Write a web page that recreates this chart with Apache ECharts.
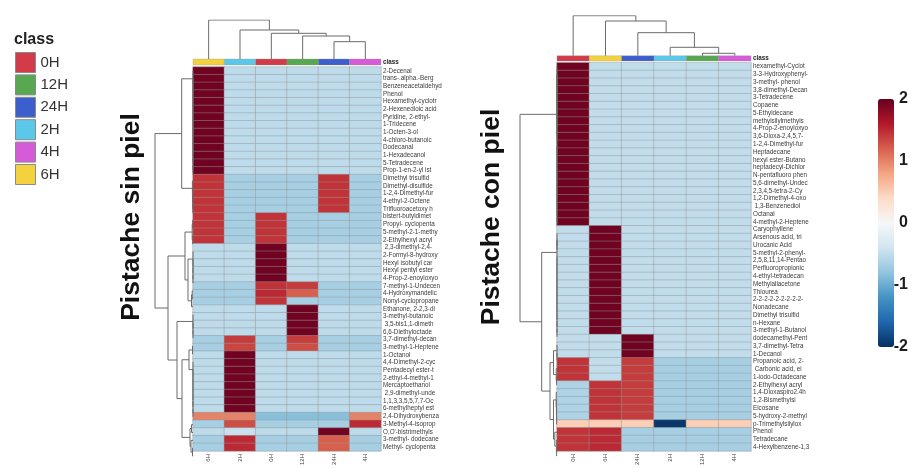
<!DOCTYPE html>
<html>
<head>
<meta charset="utf-8">
<script src="https://cdn.jsdelivr.net/npm/echarts@6/dist/echarts.min.js"></script>
<style>
  html, body { margin: 0; padding: 0; background: #fff; }
  #chart { width: 919px; height: 468px; }
</style>
</head>
<body>
<div id="chart"></div>
<script>
// ---- class legend ----
const classNames = ['0H', '12H', '24H', '2H', '4H', '6H'];
const classColors = { '0H': '#d33b49', '12H': '#58a852', '24H': '#3d5ecd', '2H': '#5cc8e9', '4H': '#d55bd8', '6H': '#f3d23d' };

// ---- colour scale ----
const scaleColors = ['#053061', '#2166ac', '#4393c3', '#92c5de', '#d1e5f0', '#f7f7f7', '#fddbc7', '#f4a582', '#d6604d', '#b2182b', '#67001f'];
const scaleTicks = [-2, -1, 0, 1, 2];

// ---- Pistache sin piel ----
const leftColumns = ['6H', '2H', '0H', '12H', '24H', '4H'];
const leftRowNames = [
  '2-Decenal', 'trans-.alpha.-Berg', 'Benzeneacetaldehyd', 'Phenol', 'Hexamethyl-cyclotr',
  '2-Hexenedioic acid', 'Pyridine, 2-ethyl-', '1-Tridecene', '1-Octen-3-ol', '4-chloro-butanoic',
  'Dodecanal', '1-Hexadecanol', '5-Tetradecene', 'Prop-1-en-2-yl ist', 'Dimethyl trisulfid',
  'Dimethyl-disulfide', '1-2,4-Dimethyl-fur', '4-ethyl-2-Octene', 'Trifluoroacetoxy h', 'bistert-butyldimet',
  'Propyl- cyclopenta', '5-methyl-2-1-methy', '2-Ethylhexyl acryl', ' 2,3-dimethyl-2,4-', '2-Formyl-8-hydroxy',
  'Hexyl isobutyl car', 'Hexyl pentyl ester', '4-Prop-2-enoyloxyo', '7-methyl-1-Undecen', '4-Hydroxymandelic',
  'Nonyl-cyclopropane', 'Ethanone, 2-2,3-di', '3-methyl-butanoic', ' 3,5-bis1,1-dimeth', '6,6-Diethyloctade',
  '3,7-dimethyl-decan', '3-methyl-1-Heptene', '1-Octanol', '4,4-Dimethyl-2-cyc', 'Pentadecyl ester-t',
  '2-ethyl-4-methyl-1', 'Mercaptoethanol', ' 2,9-dimethyl-unde', '1,1,3,3,5,5,7,7-Oc', '6-methylheptyl est',
  '2,4-Dihydroxybenza', '3-Methyl-4-isoprop', "O,O'-bistrimethyls", '3-methyl- dodecane', 'Methyl- cyclopenta'
];
const leftValues = [
  [1.95, -0.53, -0.53, -0.53, -0.53, -0.53],
  [1.95, -0.53, -0.53, -0.53, -0.53, -0.53],
  [1.95, -0.53, -0.53, -0.53, -0.53, -0.53],
  [1.95, -0.53, -0.53, -0.53, -0.53, -0.53],
  [1.95, -0.53, -0.53, -0.53, -0.53, -0.53],
  [1.95, -0.53, -0.53, -0.53, -0.53, -0.53],
  [1.95, -0.53, -0.53, -0.53, -0.53, -0.53],
  [1.95, -0.53, -0.53, -0.53, -0.53, -0.53],
  [1.95, -0.53, -0.53, -0.53, -0.53, -0.53],
  [1.95, -0.53, -0.53, -0.53, -0.53, -0.53],
  [1.95, -0.53, -0.53, -0.53, -0.53, -0.53],
  [1.95, -0.53, -0.53, -0.53, -0.53, -0.53],
  [1.95, -0.53, -0.53, -0.53, -0.53, -0.53],
  [1.95, -0.53, -0.53, -0.53, -0.53, -0.53],
  [1.45, -0.67, -0.67, -0.67, 1.45, -0.67],
  [1.45, -0.67, -0.67, -0.67, 1.45, -0.67],
  [1.45, -0.67, -0.67, -0.67, 1.45, -0.67],
  [1.45, -0.67, -0.67, -0.67, 1.45, -0.67],
  [1.45, -0.67, -0.67, -0.67, 1.45, -0.67],
  [1.45, -0.67, 1.45, -0.67, -0.67, -0.67],
  [1.45, -0.67, 1.45, -0.67, -0.67, -0.67],
  [1.45, -0.67, 1.45, -0.67, -0.67, -0.67],
  [1.45, -0.67, 1.45, -0.67, -0.67, -0.67],
  [-0.53, -0.53, 1.95, -0.53, -0.53, -0.53],
  [-0.53, -0.53, 1.95, -0.53, -0.53, -0.53],
  [-0.53, -0.53, 1.95, -0.53, -0.53, -0.53],
  [-0.53, -0.53, 1.95, -0.53, -0.53, -0.53],
  [-0.53, -0.53, 1.95, -0.53, -0.53, -0.53],
  [-0.67, -0.67, 1.45, 1.4, -0.67, -0.67],
  [-0.67, -0.67, 1.5, 1.2, -0.67, -0.67],
  [-0.67, -0.67, 1.45, -0.67, -0.67, -0.67],
  [-0.53, -0.53, -0.53, 1.95, -0.53, -0.53],
  [-0.53, -0.53, -0.53, 1.95, -0.53, -0.53],
  [-0.53, -0.53, -0.53, 1.95, -0.53, -0.53],
  [-0.53, -0.53, -0.53, 1.95, -0.53, -0.53],
  [-0.67, 1.4, -0.67, 1.4, -0.67, -0.67],
  [-0.67, 1.35, -0.67, 1.3, -0.67, -0.67],
  [-0.53, 1.95, -0.53, -0.53, -0.53, -0.53],
  [-0.53, 1.95, -0.53, -0.53, -0.53, -0.53],
  [-0.53, 1.95, -0.53, -0.53, -0.53, -0.53],
  [-0.53, 1.95, -0.53, -0.53, -0.53, -0.53],
  [-0.53, 1.95, -0.53, -0.53, -0.53, -0.53],
  [-0.53, 1.95, -0.53, -0.53, -0.53, -0.53],
  [-0.53, 1.95, -0.53, -0.53, -0.53, -0.53],
  [-0.53, 1.95, -0.53, -0.53, -0.53, -0.53],
  [1.0, 1.0, -0.85, -0.85, -0.85, 1.0],
  [-0.67, 1.3, -0.67, -0.67, -0.67, 1.5],
  [-0.53, -0.45, -0.53, -0.53, 1.95, -0.53],
  [-0.67, 1.5, -0.67, -0.67, 1.2, -0.67],
  [-0.67, 1.5, -0.67, -0.67, 1.2, -0.67]
];
// dendrograms: node = [height, left, right], leaf = row number / column index
const leftColTree = [39, 0, [29, 1, [25.7, 2, [23, 3, [17.3, 4, 5]]]]];
const leftRowTree = [38,
  [11.3,
    [0, 1, [0, 2, [0, 3, [0, 4, [0, 5, [0, 6, [0, 7, [0, 8, [0, 9, [0, 10, [0, 11, [0, 12, [0, 13, 14]]]]]]]]]]]]],
    [0.6, 15, [0.4, 16, [0.3, 17, [0.2, 18, 19]]]]
  ],
  [25,
    [8,
      [0.8, [0.4, 20, 21], [0.4, 22, 23]],
      [5,
        [0, 24, [0, 25, [0, 26, [0, 27, 28]]]],
        [1.5, [0.8, 29, 30], 31]
      ]
    ],
    [16,
      [0, 32, [0, 33, [0, 34, 35]]],
      [11,
        [4, [0.5, 36, 37], [0, 38, [0, 39, [0, 40, [0, 41, [0, 42, [0, 43, [0, 44, 45]]]]]]]],
        [3, [1.5, 46, 47], [2, 48, [0.5, 49, 50]]]
      ]
    ]
  ]
];

// ---- Pistache con piel ----
const rightColumns = ['0H', '6H', '24H', '2H', '12H', '4H'];
const rightRowNames = [
  'hexamethyl-Cyclot', '3-3-Hydroxyphenyl-', '3-methyl- phenol', '3,8-dimethyl-Decan', '3-Tetradecene',
  'Copaene', '5-Ethyldecane', 'methylsilylmethyls', '4-Prop-2-enoyloxyo', '3,6-Dioxa-2,4,5,7-',
  '1-2,4-Dimethyl-fur', 'Heptadecane', 'hexyl ester-Butano', 'heptadecyl-Dichlor', 'N-pentafluoro phen',
  '5,6-dimethyl-Undec', '2,3,4,5-tetra-2-Cy', '1,2-Dimethyl-4-oxo', ' 1,3-Benzenediol', 'Octanal',
  '4-methyl-2-Heptene', 'Caryophyllene', 'Arsenous acid, tri', 'Urocanic Acid', '5-methyl-2-phenyl-',
  '2,5,8,11,14-Pentao', 'Perfluoropropionic', '4-ethyl-tetradecan', 'Methylallacetone', 'Thiourea',
  '2-2-2-2-2-2-2-2-2-', 'Nonadecane', 'Dimethyl trisulfid', 'n-Hexane', '3-methyl-1-Butanol',
  'dodecamethyl-Pent', '3,7-dimethyl-Tetra', '1-Decanol', 'Propanoic acid, 2-', ' Carbonic acid, ei',
  '1-iodo-Octadecane', '2-Ethylhexyl acryl', '1,4-Dioxaspiro2.4h', '1,2-Bismethylsi', 'Eicosane',
  '5-hydroxy-2-methyl', 'p-Trimethylsilylox', 'Phenol', 'Tetradecane', '4-Hexylbenzene-1,3'
];
const rightValues = [
  [1.95, -0.5, -0.5, -0.5, -0.5, -0.5],
  [1.95, -0.5, -0.5, -0.5, -0.5, -0.5],
  [1.95, -0.5, -0.5, -0.5, -0.5, -0.5],
  [1.95, -0.5, -0.5, -0.5, -0.5, -0.5],
  [1.95, -0.5, -0.5, -0.5, -0.5, -0.5],
  [1.95, -0.5, -0.5, -0.5, -0.5, -0.5],
  [1.95, -0.5, -0.5, -0.5, -0.5, -0.5],
  [1.95, -0.5, -0.5, -0.5, -0.5, -0.5],
  [1.95, -0.5, -0.5, -0.5, -0.5, -0.5],
  [1.95, -0.5, -0.5, -0.5, -0.5, -0.5],
  [1.95, -0.5, -0.5, -0.5, -0.5, -0.5],
  [1.95, -0.5, -0.5, -0.5, -0.5, -0.5],
  [1.95, -0.5, -0.5, -0.5, -0.5, -0.5],
  [1.95, -0.5, -0.5, -0.5, -0.5, -0.5],
  [1.95, -0.5, -0.5, -0.5, -0.5, -0.5],
  [1.95, -0.5, -0.5, -0.5, -0.5, -0.5],
  [1.95, -0.5, -0.5, -0.5, -0.5, -0.5],
  [1.95, -0.5, -0.5, -0.5, -0.5, -0.5],
  [1.95, -0.5, -0.5, -0.5, -0.5, -0.5],
  [1.95, -0.5, -0.5, -0.5, -0.5, -0.5],
  [1.95, -0.5, -0.5, -0.5, -0.5, -0.5],
  [-0.5, 1.95, -0.5, -0.5, -0.5, -0.5],
  [-0.5, 1.95, -0.5, -0.5, -0.5, -0.5],
  [-0.5, 1.95, -0.5, -0.5, -0.5, -0.5],
  [-0.5, 1.95, -0.5, -0.5, -0.5, -0.5],
  [-0.5, 1.95, -0.5, -0.5, -0.5, -0.5],
  [-0.5, 1.95, -0.5, -0.5, -0.5, -0.5],
  [-0.5, 1.95, -0.5, -0.5, -0.5, -0.5],
  [-0.5, 1.95, -0.5, -0.5, -0.5, -0.5],
  [-0.5, 1.95, -0.5, -0.5, -0.5, -0.5],
  [-0.5, 1.95, -0.5, -0.5, -0.5, -0.5],
  [-0.5, 1.95, -0.5, -0.5, -0.5, -0.5],
  [-0.5, 1.95, -0.5, -0.5, -0.5, -0.5],
  [-0.5, 1.95, -0.5, -0.5, -0.5, -0.5],
  [-0.5, 1.95, -0.5, -0.5, -0.5, -0.5],
  [-0.5, -0.5, 1.95, -0.5, -0.5, -0.5],
  [-0.5, -0.5, 1.95, -0.5, -0.5, -0.5],
  [-0.5, -0.5, 1.95, -0.5, -0.5, -0.5],
  [1.45, -0.5, 1.4, -0.67, -0.67, -0.67],
  [1.45, -0.5, 1.4, -0.67, -0.67, -0.67],
  [1.45, -0.5, 1.4, -0.67, -0.67, -0.67],
  [-0.62, 1.45, 1.4, -0.67, -0.67, -0.67],
  [-0.62, 1.45, 1.4, -0.67, -0.67, -0.67],
  [-0.62, 1.45, 1.4, -0.67, -0.67, -0.67],
  [-0.62, 1.45, 1.4, -0.67, -0.67, -0.67],
  [-0.62, 1.45, 1.4, -0.67, -0.67, -0.67],
  [0.5, 0.5, 0.5, -1.95, 0.5, 0.5],
  [1.45, 1.5, -0.67, -0.67, -0.67, -0.67],
  [1.45, 1.5, -0.67, -0.67, -0.67, -0.67],
  [1.45, 1.5, -0.67, -0.67, -0.67, -0.67]
];
const rightColTree = [40, 0, [34.7, 1, [23, 2, [8.4, 3, [2.4, 4, 5]]]]];
const rightRowTree = [37,
  [0,
    [0, 1, [0, 2, [0, 3, [0, 4, [0, 5, [0, 6, [0, 7, [0, 8, [0, 9, 10]]]]]]]]],
    [0, 11, [0, 12, [0, 13, [0, 14, [0, 15, [0, 16, [0, 17, [0, 18, [0, 19, [0, 20, 21]]]]]]]]]]
  ],
  [15.3,
    [0,
      [0, 22, [0, 23, 24]],
      [0, 25, [0, 26, [0, 27, [0, 28, [0, 29, [0, 30, [0, 31, [0, 32, [0, 33, [0, 34, 35]]]]]]]]]]
    ],
    [7,
      [3.5, [0, 36, [0, 37, 38]], [0.8, 39, [0.5, 40, 41]]],
      [3.5,
        [0.8, 42, [0.6, 43, [0.5, 44, [0.4, 45, 46]]]],
        [2.2, 47, [0.6, 48, [0.4, 49, 50]]]
      ]
    ]
  ]
];

// ---- helpers ----
// walk a dendrogram and collect the elbow polylines as [height, position] pairs
function dendroSegments(node, out) {
  if (typeof node === 'number') return { pos: node, h: 0 };
  const a = dendroSegments(node[1], out);
  const b = dendroSegments(node[2], out);
  out.push([[a.h, a.pos], [node[0], a.pos], [node[0], b.pos], [b.h, b.pos]]);
  return { pos: (a.pos + b.pos) / 2, h: node[0] };
}
function rowDendroData(tree) {
  const segs = [];
  dendroSegments(tree, segs);
  return segs.map(s => ({ coords: s }));
}
function colDendroData(tree) {
  const segs = [];
  dendroSegments(tree, segs);
  return segs.map(s => ({ coords: s.map(p => [p[1], p[0]]) }));
}
function heatData(values) {
  const out = [];
  values.forEach((row, r) => row.forEach((v, c) => out.push([c, r, v])));
  return out;
}

const FONT = '"Liberation Sans", Arial, sans-serif';
const lineCol = '#6b6b6b';

// panel layout
const panels = [
  { cols: leftColumns, rows: leftRowNames, vals: leftValues, colTree: leftColTree, rowTree: leftRowTree,
    x: 193, w: 188, top: 67, bottom: 460, barTop: 59, barH: 6, dTop: 20, dH: 39, rdLeft: 150 },
  { cols: rightColumns, rows: rightRowNames, vals: rightValues, colTree: rightColTree, rowTree: rightRowTree,
    x: 557, w: 194, top: 62.7, bottom: 460, barTop: 55.7, barH: 5.3, dTop: 15.7, dH: 40, rdLeft: 515 }
];

const grid = [], xAxis = [], yAxis = [], series = [];
const hidden = { show: false };
const heatSeriesIdx = [];

panels.forEach(p => {
  const h = p.bottom - p.top;
  // heatmap
  let gi = grid.length;
  grid.push({ left: p.x, top: p.top, width: p.w, height: h });
  xAxis.push({ type: 'category', gridIndex: gi, data: p.cols, position: 'bottom',
    axisLine: hidden, axisTick: hidden, splitLine: hidden,
    axisLabel: { rotate: 90, fontSize: 6, color: '#444', margin: 3, interval: 0 } });
  yAxis.push({ type: 'category', gridIndex: gi, data: p.rows, inverse: true, position: 'right',
    axisLine: hidden, axisTick: hidden, splitLine: hidden,
    axisLabel: { fontSize: 6.3, color: '#3a3a3a', margin: 2, interval: 0 } });
  heatSeriesIdx.push(series.length);
  series.push({ type: 'heatmap', xAxisIndex: gi, yAxisIndex: gi, data: heatData(p.vals),
    itemStyle: { borderColor: 'rgba(150,150,150,0.75)', borderWidth: 0.6 },
    emphasis: { disabled: true }, silent: true });

  // class bar
  gi = grid.length;
  grid.push({ left: p.x, top: p.barTop, width: p.w, height: p.barH });
  xAxis.push({ type: 'category', gridIndex: gi, data: p.cols, show: false });
  yAxis.push({ type: 'category', gridIndex: gi, data: ['class'], position: 'right',
    axisLine: hidden, axisTick: hidden, splitLine: hidden,
    axisLabel: { fontSize: 6.3, fontWeight: 'bold', color: '#222', margin: 2 } });
  series.push({ type: 'custom', xAxisIndex: gi, yAxisIndex: gi, silent: true,
    data: p.cols.map((c, i) => [i, 0]),
    renderItem: function (params, api) {
      const pt = api.coord([api.value(0), api.value(1)]);
      const sz = api.size([1, 1]);
      return { type: 'rect',
        shape: { x: pt[0] - sz[0] / 2, y: pt[1] - sz[1] / 2, width: sz[0], height: sz[1] },
        style: { fill: classColors[p.cols[params.dataIndex]], stroke: 'rgba(150,150,150,0.6)', lineWidth: 0.5 } };
    } });

  // column dendrogram
  gi = grid.length;
  grid.push({ left: p.x, top: p.dTop, width: p.w, height: p.dH });
  xAxis.push({ type: 'value', gridIndex: gi, min: -0.5, max: p.cols.length - 0.5, show: false });
  yAxis.push({ type: 'value', gridIndex: gi, min: 0, max: p.dH, show: false });
  series.push({ type: 'lines', coordinateSystem: 'cartesian2d', xAxisIndex: gi, yAxisIndex: gi,
    polyline: true, silent: true, data: colDendroData(p.colTree),
    lineStyle: { color: lineCol, width: 1, opacity: 1 } });

  // row dendrogram
  gi = grid.length;
  const rw = p.x - p.rdLeft;
  grid.push({ left: p.rdLeft, top: p.top, width: rw, height: h });
  xAxis.push({ type: 'value', gridIndex: gi, min: 0, max: rw, inverse: true, show: false });
  yAxis.push({ type: 'value', gridIndex: gi, min: 0.5, max: p.rows.length + 0.5, inverse: true, show: false });
  series.push({ type: 'lines', coordinateSystem: 'cartesian2d', xAxisIndex: gi, yAxisIndex: gi,
    polyline: true, silent: true, data: rowDendroData(p.rowTree),
    lineStyle: { color: lineCol, width: 1, opacity: 1 } });
});

// colour bar tick axis
const cbGrid = grid.length;
grid.push({ left: 878, top: 99, width: 16, height: 248 });
xAxis.push({ type: 'value', gridIndex: cbGrid, show: false, min: 0, max: 1 });
yAxis.push({ type: 'value', gridIndex: cbGrid, min: scaleTicks[0], max: scaleTicks[scaleTicks.length - 1], interval: 1,
  position: 'right', axisLine: hidden, axisTick: hidden, splitLine: hidden,
  axisLabel: { fontSize: 16, fontWeight: 'bold', color: '#1e1e1e', align: 'right', margin: 14 } });

// legend entries
classNames.forEach(n => {
  series.push({ type: 'scatter', name: n, xAxisIndex: cbGrid, yAxisIndex: cbGrid, data: [],
    itemStyle: { color: classColors[n], opacity: 1 } });
});

const option = {
  animation: false,
  backgroundColor: '#ffffff',
  textStyle: { fontFamily: FONT },
  title: { text: 'class', left: 14, top: 32, padding: 0,
    textStyle: { fontSize: 16, fontWeight: 'bold', color: '#222', fontFamily: FONT } },
  legend: {
    data: classNames, orient: 'vertical', left: 15, top: 52, padding: 0,
    icon: 'rect', itemWidth: 20, itemHeight: 20, itemGap: 1.4, selectedMode: false,
    itemStyle: { borderColor: '#8a8a8a', borderWidth: 1, opacity: 1 },
    textStyle: { fontSize: 15, color: '#333', fontFamily: FONT }
  },
  visualMap: {
    type: 'continuous', min: -2, max: 2, seriesIndex: heatSeriesIdx,
    calculable: false, hoverLink: false, orient: 'vertical',
    left: 878, top: 99, itemWidth: 16, itemHeight: 248, padding: 0,
    inRange: { color: scaleColors }
  },
  grid: grid,
  xAxis: xAxis,
  yAxis: yAxis,
  series: series,
  graphic: [
    { type: 'text', x: 132, y: 217, rotation: Math.PI / 2,
      style: { text: 'Pistache sin piel', fontSize: 26.5, fontWeight: 'bold', fill: '#111', fontFamily: FONT,
        textAlign: 'center', textVerticalAlign: 'middle' } },
    { type: 'text', x: 492, y: 217, rotation: Math.PI / 2,
      style: { text: 'Pistache con piel', fontSize: 26.5, fontWeight: 'bold', fill: '#111', fontFamily: FONT,
        textAlign: 'center', textVerticalAlign: 'middle' } }
  ]
};

const chart = echarts.init(document.getElementById('chart'), null, { renderer: 'canvas' });
chart.setOption(option);
</script>
</body>
</html>
